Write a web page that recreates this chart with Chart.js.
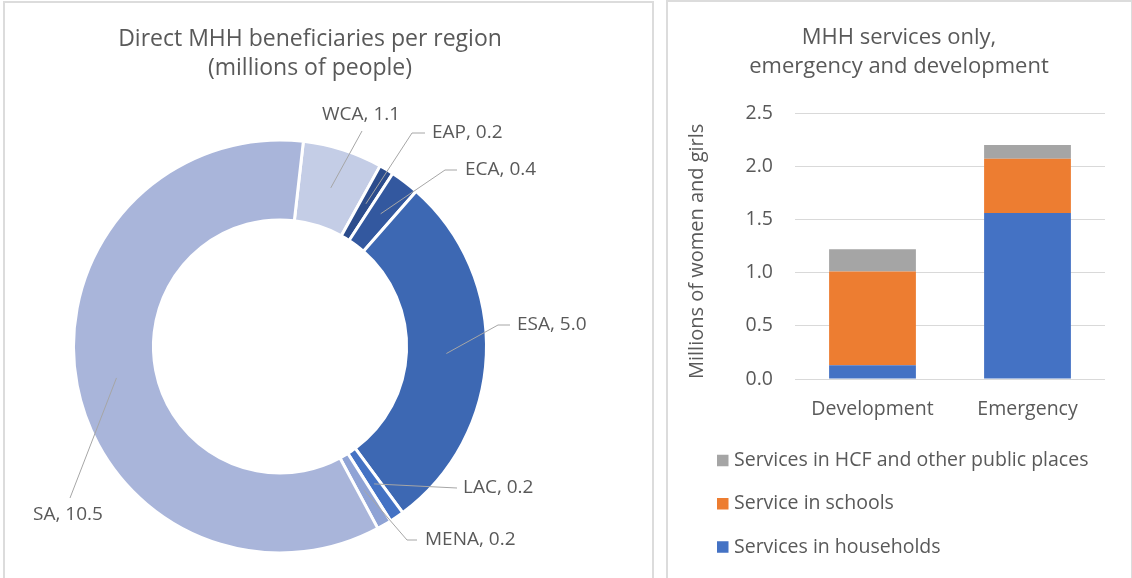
<!DOCTYPE html>
<html>
<head>
<meta charset="utf-8">
<script src="https://cdn.jsdelivr.net/npm/chart.js@4.4.1/dist/chart.umd.min.js"></script>
<style>
  body { margin: 0; background: #fff; width: 1132px; height: 578px; overflow: hidden; position: relative; }
  .panel { position: absolute; box-sizing: border-box; border: 2px solid #dcdcdc; }
  canvas { position: absolute; }
</style>
</head>
<body>
<div class="panel" style="left:3px;top:1px;width:651px;height:600px"></div>
<div class="panel" style="left:666px;top:0px;width:467px;height:600px"></div>
<canvas id="donut" width="620" height="578" style="left:0;top:0"></canvas>
<canvas id="bars" width="464" height="578" style="left:667px;top:0"></canvas>
<script>
// donut: direct MHH beneficiaries (millions), clockwise from the top
const regions = ['WCA', 'EAP', 'ECA', 'ESA', 'LAC', 'MENA', 'SA'];
const beneficiaries = [1.1, 0.2, 0.4, 5.0, 0.2, 0.2, 10.5];
const regionColors = ['#c4cde6', '#2c4c8c', '#33589f', '#3d68b3', '#4472c4', '#8fa3d5', '#a9b5da'];
const donutTitle = ['Direct MHH beneficiaries per region', '(millions of people)'];

// stacked bars: MHH services, millions of women and girls
const programmes = ['Development', 'Emergency'];
const households = [0.13, 1.56];
const schools = [0.88, 0.51];
const hcfPlaces = [0.21, 0.13];
const barTitle = ['MHH services only,', 'emergency and development'];

const textColor = '#595959';
const fontFamily = "'Open Sans', sans-serif";

const panelTitle = {
  id: 'panelTitle',
  afterDraw(chart, args, opts) {
    const ctx = chart.ctx;
    ctx.save();
    ctx.font = `${opts.size}px ${fontFamily}`;
    ctx.fillStyle = textColor;
    ctx.textAlign = 'center';
    ctx.textBaseline = 'middle';
    opts.lines.forEach((line, k) => ctx.fillText(line, opts.x, opts.y[k]));
    ctx.restore();
  }
};

// labels with leader lines, anchored in the middle of each ring segment
const donutLabels = {
  id: 'donutLabels',
  afterDraw(chart, args, opts) {
    const ctx = chart.ctx;
    const arcs = chart.getDatasetMeta(0).data;
    ctx.save();
    ctx.font = `${opts.size}px ${fontFamily}`;
    ctx.textBaseline = 'middle';
    ctx.textAlign = 'left';
    arcs.forEach((arc, i) => {
      const spot = opts.spots[i];
      const p = arc.getProps(['x', 'y', 'startAngle', 'endAngle', 'innerRadius', 'outerRadius'], true);
      const mid = (p.startAngle + p.endAngle) / 2;
      const r = (p.innerRadius + p.outerRadius) / 2;
      ctx.strokeStyle = '#a6a6a6';
      ctx.lineWidth = 1;
      ctx.beginPath();
      ctx.moveTo(p.x + Math.cos(mid) * r, p.y + Math.sin(mid) * r);
      spot.line.forEach(pt => ctx.lineTo(pt[0], pt[1]));
      ctx.stroke();
      ctx.fillStyle = textColor;
      ctx.fillText(`${regions[i]}, ${beneficiaries[i].toFixed(1)}`, spot.x, spot.y);
    });
    ctx.restore();
  }
};

// vertical legend, top item = last dataset
const stackLegend = {
  id: 'stackLegend',
  afterDraw(chart, args, opts) {
    const ctx = chart.ctx;
    const sets = chart.data.datasets.slice().reverse();
    ctx.save();
    ctx.font = `${opts.size}px ${fontFamily}`;
    ctx.textBaseline = 'middle';
    ctx.textAlign = 'left';
    sets.forEach((ds, k) => {
      const cy = opts.y + k * opts.rowGap;
      ctx.fillStyle = ds.backgroundColor;
      ctx.fillRect(opts.x, cy - opts.box / 2, opts.box, opts.box);
      ctx.fillStyle = textColor;
      ctx.fillText(ds.label, opts.x + opts.box + opts.gap, cy);
    });
    ctx.restore();
  }
};

new Chart(document.getElementById('donut'), {
  type: 'doughnut',
  data: {
    labels: regions,
    datasets: [{
      data: beneficiaries,
      backgroundColor: regionColors,
      borderColor: '#ffffff',
      borderWidth: 3
    }]
  },
  options: {
    responsive: false,
    animation: false,
    cutout: '61.3%',
    rotation: 6.5,
    layout: { padding: { left: 72, right: 132, top: 138.5, bottom: 23.5 } },
    plugins: {
      legend: { display: false },
      tooltip: { enabled: false },
      panelTitle: { lines: donutTitle, x: 310, y: [39, 68.5], size: 23 },
      donutLabels: {
        size: 19,
        spots: [
          { x: 322, y: 115, line: [[362, 131]] },
          { x: 432, y: 133, line: [[412, 133], [425, 133]] },
          { x: 465, y: 170, line: [[445, 170], [457, 170]] },
          { x: 517, y: 325, line: [[498, 325], [510, 325]] },
          { x: 463, y: 488, line: [[457, 488]] },
          { x: 425, y: 540, line: [[407, 540], [417, 540]] },
          { x: 33, y: 515, line: [[70, 498]] }
        ]
      }
    }
  },
  plugins: [panelTitle, donutLabels]
});

new Chart(document.getElementById('bars'), {
  type: 'bar',
  data: {
    labels: programmes,
    datasets: [
      { label: 'Services in households', data: households, backgroundColor: '#4472c4' },
      { label: 'Service in schools', data: schools, backgroundColor: '#ed7d31' },
      { label: 'Services in HCF and other public places', data: hcfPlaces, backgroundColor: '#a5a5a5' }
    ]
  },
  options: {
    responsive: false,
    animation: false,
    categoryPercentage: 1,
    barPercentage: 0.56,
    layout: { padding: { left: 10, right: 26, top: 113, bottom: 154 } },
    scales: {
      x: {
        stacked: true,
        grid: { display: false, drawTicks: false },
        border: { display: false },
        ticks: { color: textColor, font: { family: fontFamily, size: 19.5 }, padding: 19 },
        afterFit(scale) { scale.height = 45; }
      },
      y: {
        stacked: true,
        min: 0,
        max: 2.5,
        grid: { color: '#d9d9d9', lineWidth: 1, drawTicks: false },
        border: { display: false },
        ticks: {
          stepSize: 0.5,
          padding: 22,
          color: textColor,
          font: { family: fontFamily, size: 19.5 },
          callback: v => Number(v).toFixed(1)
        },
        title: {
          display: true,
          text: 'Millions of women and girls',
          align: 'start',
          color: textColor,
          font: { family: fontFamily, size: 20 },
          padding: { top: 8, bottom: 0 }
        },
        afterFit(scale) { scale.width = 118; }
      }
    },
    plugins: {
      legend: { display: false },
      tooltip: { enabled: false },
      panelTitle: { lines: barTitle, x: 232, y: [37.5, 66.5], size: 22 },
      stackLegend: { x: 50, y: 460.5, rowGap: 43.25, box: 11.5, gap: 5.5, size: 19.5 }
    }
  },
  plugins: [panelTitle, stackLegend]
});
</script>
</body>
</html>
